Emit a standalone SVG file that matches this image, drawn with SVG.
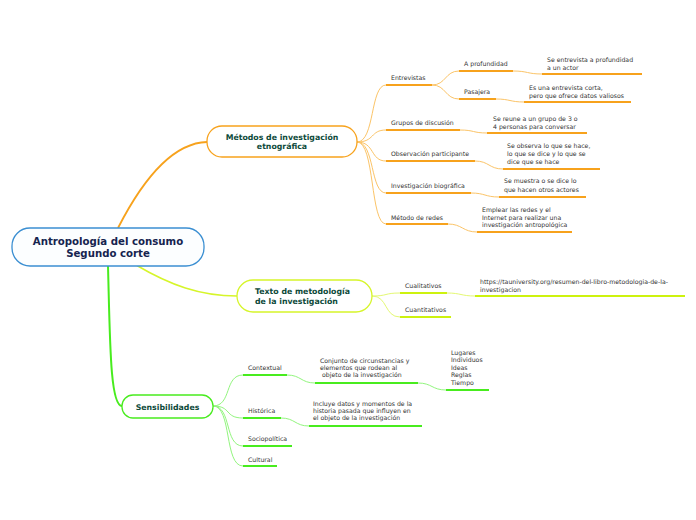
<svg xmlns="http://www.w3.org/2000/svg" width="696" height="520" viewBox="0 0 696 520">
<style>
.t{font-family:"DejaVu Sans","Liberation Sans",sans-serif;font-size:6.2px;fill:#333}
.nt{font-family:"DejaVu Sans","Liberation Sans",sans-serif;font-size:7.8px;font-weight:bold;fill:#0d4a3a}
.rt{font-family:"DejaVu Sans","Liberation Sans",sans-serif;font-size:10.2px;font-weight:bold;fill:#16244f}
.c{fill:none}
.o{stroke:#fbc468;stroke-width:1}
.ou{stroke:#f7a21c;stroke-width:2}
.y{stroke:#e4f873;stroke-width:1}
.yu{stroke:#cdf20e;stroke-width:2}
.g{stroke:#92f57e;stroke-width:1}
.gu{stroke:#48ec1e;stroke-width:2}
</style>
<rect width="696" height="520" fill="#fff"/>
<g id="connectors" class="c">
<path d="M118,228 C140,185 170,143 207,142" stroke="#f7a21c" stroke-width="1.8"/>
<path d="M136,265 C170,285 200,296 237,296" stroke="#d6f52a" stroke-width="1.5"/>
<path d="M108,266 C110,340 110,406 122,406" stroke="#48ec1e" stroke-width="2"/>
<path class="o" d="M357,142 C375,142 370,85 386,85"/>
<path class="o" d="M357,142 C375,142 370,130 386,130"/>
<path class="o" d="M357,142 C375,142 370,161 386,161"/>
<path class="o" d="M357,142 C375,142 370,193 386,193"/>
<path class="o" d="M357,142 C375,142 370,224 386,224"/>
<path class="o" d="M432,85 C446,85 445,71 459,71"/>
<path class="o" d="M432,85 C446,85 445,99 459,99"/>
<path class="o" d="M513,71 C528,71 527,74 542,74"/>
<path class="o" d="M496,99 C510,99 510,102 524,102"/>
<path class="o" d="M460,130 C474,130 473,133 487,133"/>
<path class="o" d="M475,161 C489,161 489,169 503,169"/>
<path class="o" d="M471,193 C485,193 485,197 499,197"/>
<path class="o" d="M448,224 C462,224 463,232 477,232"/>
<path class="y" d="M372,296 C388,296 384,293 400,293"/>
<path class="y" d="M372,296 C388,296 384,317 400,317"/>
<path class="y" d="M447,293 C461,293 461,296 475,296"/>
<path class="g" d="M213,406 C232,406 224,375 243,375"/>
<path class="g" d="M213,406 C232,406 224,418 243,418"/>
<path class="g" d="M213,406 C232,406 224,446 243,446"/>
<path class="g" d="M213,406 C232,406 224,466 243,466"/>
<path class="g" d="M287,375 C301,375 301,383 315,383"/>
<path class="g" d="M418,383 C432,383 432,390 446,390"/>
<path class="g" d="M281,418 C295,418 295,426 309,426"/>
</g>
<g id="root">
<rect x="12" y="228" width="192" height="38" rx="18" fill="#fcfeff" stroke="#3b8fd2" stroke-width="1.3"/>
<text class="rt" x="108" y="245" text-anchor="middle">Antropología del consumo</text>
<text class="rt" x="108" y="257" text-anchor="middle">Segundo corte</text>
</g>
<g id="metodos">
<rect x="207" y="126" width="150" height="31" rx="15" fill="#fff" stroke="#f7a21c" stroke-width="1.3"/>
<text class="nt" x="282" y="140" text-anchor="middle">Métodos de investigación</text>
<text class="nt" x="282" y="149" text-anchor="middle">etnográfica</text>
</g>
<g id="texto">
<rect x="237" y="280" width="135" height="32" rx="16" fill="#fff" stroke="#d6f52a" stroke-width="1.3"/>
<text class="nt" x="255" y="294">Texto de metodología</text>
<text class="nt" x="255" y="304">de la investigación</text>
</g>
<g id="sensibilidades">
<rect x="122" y="395" width="91" height="23" rx="11" fill="#fff" stroke="#48ec1e" stroke-width="1.3"/>
<text class="nt" x="167.5" y="410" text-anchor="middle">Sensibilidades</text>
</g>
<g id="entrevistas"><text class="t" x="391" y="79.5">Entrevistas</text><path class="c ou" d="M386,85 H432"/></g>
<g id="a-profundidad"><text class="t" x="464" y="66">A profundidad</text><path class="c ou" d="M459,71 H513"/></g>
<g id="se-entrevista"><text class="t" x="547" y="61.5">Se entrevista a profundidad</text><text class="t" x="547" y="70">a un actor</text><path class="c ou" d="M542,74 H642"/></g>
<g id="pasajera"><text class="t" x="464" y="94">Pasajera</text><path class="c ou" d="M459,99 H496"/></g>
<g id="es-una"><text class="t" x="529" y="89.5">Es una entrevista corta,</text><text class="t" x="529" y="98">pero que ofrece datos valiosos</text><path class="c ou" d="M524,102 H631"/></g>
<g id="grupos"><text class="t" x="391" y="124.5">Grupos de discusión</text><path class="c ou" d="M386,130 H460"/></g>
<g id="se-reune"><text class="t" x="493" y="121">Se reune a un grupo de 3 o</text><text class="t" x="493" y="128.5">4 personas para conversar</text><path class="c ou" d="M487,133 H587"/></g>
<g id="observacion"><text class="t" x="391" y="155.5">Observación participante</text><path class="c ou" d="M386,161 H475"/></g>
<g id="se-observa"><text class="t" x="507" y="148.3">Se observa lo que se hace,</text><text class="t" x="507" y="156">lo que se dice y lo que se</text><text class="t" x="507" y="164">dice que se hace</text><path class="c ou" d="M503,169 H600"/></g>
<g id="biografica"><text class="t" x="391" y="187.5">Investigación biográfica</text><path class="c ou" d="M386,193 H471"/></g>
<g id="se-muestra"><text class="t" x="504" y="183.3">Se muestra o se dice lo</text><text class="t" x="504" y="192">que hacen otros actores</text><path class="c ou" d="M499,197 H586"/></g>
<g id="redes"><text class="t" x="391" y="220">Método de redes</text><path class="c ou" d="M386,224 H448"/></g>
<g id="emplear"><text class="t" x="482" y="211.5">Emplear las redes y el</text><text class="t" x="482" y="220">Internet para realizar una</text><text class="t" x="482" y="227">investigación antropológica</text><path class="c ou" d="M477,232 H572"/></g>
<g id="cualitativos"><text class="t" x="405" y="288">Cualitativos</text><path class="c yu" d="M400,293 H447"/></g>
<g id="url"><text class="t" x="480" y="284">https://tauniversity.org/resumen-del-libro-metodologia-de-la-</text><text class="t" x="480" y="291.5">investigacion</text><path class="c yu" d="M475,296 H685"/></g>
<g id="cuantitativos"><text class="t" x="405" y="311.5">Cuantitativos</text><path class="c yu" d="M400,317 H451"/></g>
<g id="contextual"><text class="t" x="248" y="370">Contextual</text><path class="c gu" d="M243,375 H287"/></g>
<g id="conjunto"><text class="t" x="320" y="362.5">Conjunto de circunstancias y</text><text class="t" x="320" y="370">elementos que rodean al</text><text class="t" x="320" y="377.3" xml:space="preserve"> objeto de la investigación</text><path class="c gu" d="M315,383 H418"/></g>
<g id="lugares"><text class="t" x="451" y="354.5">Lugares</text><text class="t" x="451" y="362">Individuos</text><text class="t" x="451" y="369.5">Ideas</text><text class="t" x="451" y="377">Reglas</text><text class="t" x="451" y="385">Tiempo</text><path class="c gu" d="M446,390 H489"/></g>
<g id="historica"><text class="t" x="248" y="413">Histórica</text><path class="c gu" d="M243,418 H281"/></g>
<g id="incluye"><text class="t" x="313" y="405.5">Incluye datos y momentos de la</text><text class="t" x="313" y="413">historia pasada que influyen en</text><text class="t" x="313" y="420">el objeto de la investigación</text><path class="c gu" d="M309,426 H422"/></g>
<g id="sociopolitica"><text class="t" x="248" y="441">Sociopolítica</text><path class="c gu" d="M243,446 H292"/></g>
<g id="cultural"><text class="t" x="248" y="461.5">Cultural</text><path class="c gu" d="M243,466 H277"/></g>
</svg>
